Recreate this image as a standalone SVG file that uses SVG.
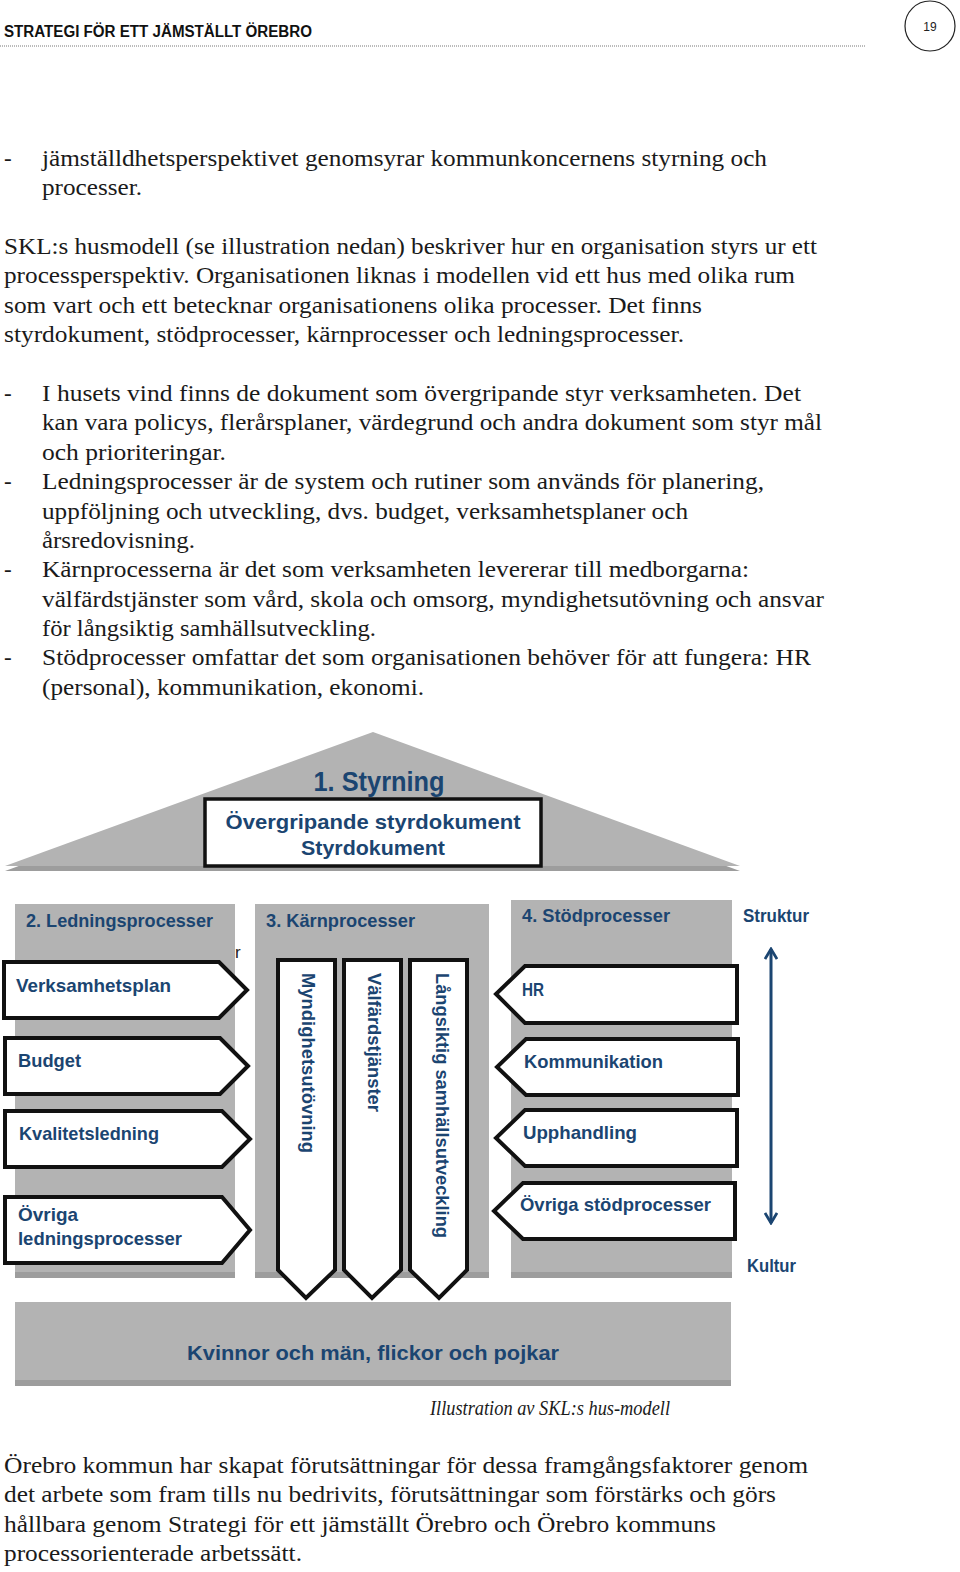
<svg xmlns="http://www.w3.org/2000/svg" width="960" height="1572" viewBox="0 0 960 1572">
<style>
.body{font-family:"Liberation Serif",serif;font-size:23px;fill:#1a1a1a}
.lab{font-family:"Liberation Sans",Arial,sans-serif;font-weight:bold;font-size:19px;fill:#1b4571}
.big{font-family:"Liberation Sans",Arial,sans-serif;font-weight:bold;fill:#1b4571}
.grey{fill:#b3b3b3}
.shade{fill:#9d9d9d}
.shape{fill:#fff;stroke:#111;stroke-width:4;stroke-linejoin:miter}
</style>
<defs>
<marker id="chev" viewBox="0 0 14 14" refX="12" refY="7" markerWidth="14" markerHeight="14" markerUnits="userSpaceOnUse" orient="auto-start-reverse">
<polyline points="2,1 12,7 2,13" fill="none" stroke="#1b4571" stroke-width="2.8"/>
</marker>
</defs>
<rect width="960" height="1572" fill="#fff"/>
<g id="header">
<text x="4" y="37" font-family="Liberation Sans, Arial, sans-serif" font-weight="bold" font-size="16" fill="#111" textLength="308" lengthAdjust="spacingAndGlyphs">STRATEGI FÖR ETT JÄMSTÄLLT ÖREBRO</text>
<line x1="0" y1="46" x2="865" y2="46" stroke="#777" stroke-width="1" stroke-dasharray="1,1"/>
<circle cx="930" cy="26" r="25" fill="none" stroke="#222" stroke-width="1.2"/>
<text x="930" y="31" text-anchor="middle" font-family="Liberation Sans, Arial, sans-serif" font-size="12" fill="#222">19</text>
</g>
<g id="bodytext">
<text class="body" x="4" y="166">-</text>
<text class="body" x="42" y="166" textLength="725" lengthAdjust="spacingAndGlyphs">jämställdhetsperspektivet genomsyrar kommunkoncernens styrning och</text>
<text class="body" x="42" y="195" textLength="100" lengthAdjust="spacingAndGlyphs">processer.</text>
<text class="body" x="4" y="254" textLength="813" lengthAdjust="spacingAndGlyphs">SKL:s husmodell (se illustration nedan) beskriver hur en organisation styrs ur ett</text>
<text class="body" x="4" y="283" textLength="791" lengthAdjust="spacingAndGlyphs">processperspektiv. Organisationen liknas i modellen vid ett hus med olika rum</text>
<text class="body" x="4" y="313" textLength="698" lengthAdjust="spacingAndGlyphs">som vart och ett betecknar organisationens olika processer. Det finns</text>
<text class="body" x="4" y="342" textLength="680" lengthAdjust="spacingAndGlyphs">styrdokument, stödprocesser, kärnprocesser och ledningsprocesser.</text>
<text class="body" x="4" y="401">-</text>
<text class="body" x="42" y="401" textLength="759" lengthAdjust="spacingAndGlyphs">I husets vind finns de dokument som övergripande styr verksamheten. Det</text>
<text class="body" x="42" y="430" textLength="780" lengthAdjust="spacingAndGlyphs">kan vara policys, flerårsplaner, värdegrund och andra dokument som styr mål</text>
<text class="body" x="42" y="460" textLength="184" lengthAdjust="spacingAndGlyphs">och prioriteringar.</text>
<text class="body" x="4" y="489">-</text>
<text class="body" x="42" y="489" textLength="722" lengthAdjust="spacingAndGlyphs">Ledningsprocesser är de system och rutiner som används för planering,</text>
<text class="body" x="42" y="519" textLength="646" lengthAdjust="spacingAndGlyphs">uppföljning och utveckling, dvs. budget, verksamhetsplaner och</text>
<text class="body" x="42" y="548" textLength="153" lengthAdjust="spacingAndGlyphs">årsredovisning.</text>
<text class="body" x="4" y="577">-</text>
<text class="body" x="42" y="577" textLength="707" lengthAdjust="spacingAndGlyphs">Kärnprocesserna är det som verksamheten levererar till medborgarna:</text>
<text class="body" x="42" y="607" textLength="782" lengthAdjust="spacingAndGlyphs">välfärdstjänster som vård, skola och omsorg, myndighetsutövning och ansvar</text>
<text class="body" x="42" y="636" textLength="334" lengthAdjust="spacingAndGlyphs">för långsiktig samhällsutveckling.</text>
<text class="body" x="4" y="665">-</text>
<text class="body" x="42" y="665" textLength="769" lengthAdjust="spacingAndGlyphs">Stödprocesser omfattar det som organisationen behöver för att fungera: HR</text>
<text class="body" x="42" y="695" textLength="382" lengthAdjust="spacingAndGlyphs">(personal), kommunikation, ekonomi.</text>
<text class="body" x="4" y="1473" textLength="804" lengthAdjust="spacingAndGlyphs">Örebro kommun har skapat förutsättningar för dessa framgångsfaktorer genom</text>
<text class="body" x="4" y="1502" textLength="772" lengthAdjust="spacingAndGlyphs">det arbete som fram tills nu bedrivits, förutsättningar som förstärks och görs</text>
<text class="body" x="4" y="1532" textLength="712" lengthAdjust="spacingAndGlyphs">hållbara genom Strategi för ett jämställt Örebro och Örebro kommuns</text>
<text class="body" x="4" y="1561" textLength="298" lengthAdjust="spacingAndGlyphs">processorienterade arbetssätt.</text>
</g>
<g id="roof">
<polygon class="shade" points="373,737 5,871 740,871"/>
<polygon class="grey" points="373,732 5,866 740,866"/>
<text class="big" x="379" y="791" font-size="28" text-anchor="middle" textLength="131" lengthAdjust="spacingAndGlyphs">1. Styrning</text>
</g>
<g id="styrdokument">
<rect x="205" y="799" width="336" height="67" fill="#fff" stroke="#111" stroke-width="3.5"/>
<text class="big" x="373" y="829" font-size="21" text-anchor="middle" textLength="295" lengthAdjust="spacingAndGlyphs">Övergripande styrdokument</text>
<text class="big" x="373" y="855" font-size="21" text-anchor="middle" textLength="144" lengthAdjust="spacingAndGlyphs">Styrdokument</text>
</g>
<g id="col-ledning">
<rect class="shade" x="15" y="904" width="220" height="374"/>
<rect class="grey" x="15" y="904" width="220" height="368"/>
<text class="lab" x="26" y="927" textLength="187" lengthAdjust="spacingAndGlyphs">2. Ledningsprocesser</text>
<text x="235" y="958" font-family="Liberation Sans, Arial, sans-serif" font-size="17" fill="#222">r</text>
</g>
<g id="col-karn">
<rect class="shade" x="255" y="904" width="234" height="374"/>
<rect class="grey" x="255" y="904" width="234" height="368"/>
<text class="lab" x="266" y="927" textLength="149" lengthAdjust="spacingAndGlyphs">3. Kärnprocesser</text>
</g>
<g id="col-stod">
<rect class="shade" x="511" y="900" width="221" height="378"/>
<rect class="grey" x="511" y="900" width="221" height="372"/>
<text class="lab" x="522" y="922" textLength="148" lengthAdjust="spacingAndGlyphs">4. Stödprocesser</text>
</g>
<g id="verksamhetsplan">
<polygon class="shape" points="4,962 219,962 247,990 219,1018 4,1018"/>
<text class="lab" x="16" y="992" textLength="155" lengthAdjust="spacingAndGlyphs">Verksamhetsplan</text>
</g>
<g id="budget">
<polygon class="shape" points="5,1038 220,1038 248,1066 220,1094 5,1094"/>
<text class="lab" x="18" y="1067" textLength="63" lengthAdjust="spacingAndGlyphs">Budget</text>
</g>
<g id="kvalitetsledning">
<polygon class="shape" points="5,1111 222,1111 250,1139 222,1167 5,1167"/>
<text class="lab" x="19" y="1140" textLength="140" lengthAdjust="spacingAndGlyphs">Kvalitetsledning</text>
</g>
<g id="ovriga-ledning">
<polygon class="shape" points="5,1197 222,1197 250,1230 222,1263 5,1263"/>
<text class="lab" x="18" y="1221" textLength="60" lengthAdjust="spacingAndGlyphs">Övriga</text>
<text class="lab" x="18" y="1245" textLength="164" lengthAdjust="spacingAndGlyphs">ledningsprocesser</text>
</g>
<g id="myndighetsutovning">
<polygon class="shape" points="278,960 335,960 335,1270 306,1298 278,1270"/>
<text class="lab" transform="translate(302,973) rotate(90)" textLength="180" lengthAdjust="spacingAndGlyphs">Myndighetsutövning</text>
</g>
<g id="valfardstjanster">
<polygon class="shape" points="344,960 401,960 401,1270 372,1298 344,1270"/>
<text class="lab" transform="translate(368,973) rotate(90)" textLength="139" lengthAdjust="spacingAndGlyphs">Välfärdstjänster</text>
</g>
<g id="langsiktig">
<polygon class="shape" points="410,960 467,960 467,1270 439,1298 410,1270"/>
<text class="lab" transform="translate(436,973) rotate(90)" textLength="265" lengthAdjust="spacingAndGlyphs">Långsiktig samhällsutveckling</text>
</g>
<g id="hr">
<polygon class="shape" points="737,966 525,966 496,994 525,1023 737,1023"/>
<text class="lab" x="522" y="996" textLength="22" lengthAdjust="spacingAndGlyphs">HR</text>
</g>
<g id="kommunikation">
<polygon class="shape" points="738,1039 526,1039 497,1067 526,1095 738,1095"/>
<text class="lab" x="524" y="1068" textLength="139" lengthAdjust="spacingAndGlyphs">Kommunikation</text>
</g>
<g id="upphandling">
<polygon class="shape" points="737,1110 525,1110 496,1138 525,1166 737,1166"/>
<text class="lab" x="523" y="1139" textLength="114" lengthAdjust="spacingAndGlyphs">Upphandling</text>
</g>
<g id="ovriga-stod">
<polygon class="shape" points="735,1183 523,1183 494,1211 523,1239 735,1239"/>
<text class="lab" x="520" y="1211" textLength="191" lengthAdjust="spacingAndGlyphs">Övriga stödprocesser</text>
</g>
<g id="struktur-kultur">
<text class="lab" x="743" y="922" textLength="66" lengthAdjust="spacingAndGlyphs">Struktur</text>
<text class="lab" x="747" y="1272" textLength="49" lengthAdjust="spacingAndGlyphs">Kultur</text>
</g>
<g id="connectors">
<line x1="771" y1="949" x2="771" y2="1223" stroke="#1b4571" stroke-width="3" marker-start="url(#chev)" marker-end="url(#chev)"/>
</g>
<g id="foundation">
<rect class="shade" x="15" y="1302" width="716" height="84"/>
<rect class="grey" x="15" y="1302" width="716" height="78"/>
<text class="big" x="373" y="1360" font-size="21" text-anchor="middle" textLength="372" lengthAdjust="spacingAndGlyphs">Kvinnor och män, flickor och pojkar</text>
</g>
<g id="caption">
<text x="430" y="1415" font-family="Liberation Serif, serif" font-style="italic" font-size="22" fill="#1a1a1a" textLength="240" lengthAdjust="spacingAndGlyphs">Illustration av SKL:s hus-modell</text>
</g>
</svg>
